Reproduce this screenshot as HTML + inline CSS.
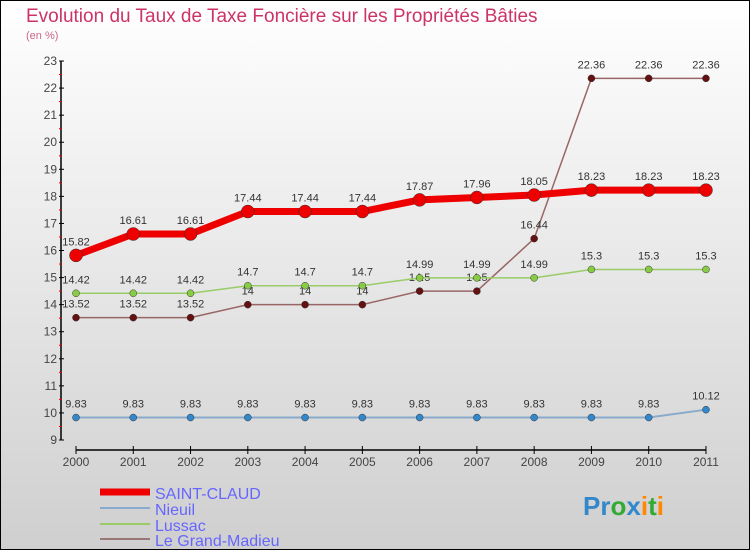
<!DOCTYPE html>
<html><head><meta charset="utf-8"><style>
body{margin:0;width:750px;height:550px;overflow:hidden;font-family:"Liberation Sans",sans-serif}
</style></head><body>
<svg width="750" height="550" xmlns="http://www.w3.org/2000/svg">
<defs><linearGradient id="bg" x1="0" y1="0" x2="0" y2="1"><stop offset="0" stop-color="#ffffff"/><stop offset="1" stop-color="#cfcfcf"/></linearGradient></defs>
<rect x="0.5" y="0.5" width="749" height="549" fill="url(#bg)" stroke="#000"/>
<text x="26" y="22" font-size="19" fill="#cc3366">Evolution du Taux de Taxe Foncière sur les Propriétés Bâties</text>
<text x="26" y="39" font-size="11" fill="#cc6688">(en %)</text>
<g id="axes"></g>
<g id="series"></g>
<g>
<line x1="100" y1="492" x2="150" y2="492" stroke="#ee0000" stroke-width="7"/>
<text x="155" y="499" font-size="16" fill="#6666ff">SAINT-CLAUD</text>
<line x1="100" y1="508" x2="150" y2="508" stroke="#88aacc" stroke-width="2"/>
<text x="155" y="515" font-size="16" fill="#6666ff">Nieuil</text>
<line x1="100" y1="524" x2="150" y2="524" stroke="#99cc66" stroke-width="2"/>
<text x="155" y="531" font-size="16" fill="#6666ff">Lussac</text>
<line x1="100" y1="539" x2="150" y2="539" stroke="#997777" stroke-width="2"/>
<text x="155" y="546" font-size="16" fill="#6666ff">Le Grand-Madieu</text>
</g>
<text x="583" y="515" font-size="26" font-weight="bold"><tspan fill="#3388cc">Pr</tspan><tspan fill="#33aa33">o</tspan><tspan fill="#3388cc">x</tspan><tspan fill="#ff8800">i</tspan><tspan fill="#33aa33">t</tspan><tspan fill="#ff8800">i</tspan></text>
</svg>
<script>
const years=[2000,2001,2002,2003,2004,2005,2006,2007,2008,2009,2010,2011];
const yTicks=[9,10,11,12,13,14,15,16,17,18,19,20,21,22,23];
const saintClaud=[15.82,16.61,16.61,17.44,17.44,17.44,17.87,17.96,18.05,18.23,18.23,18.23];
const nieuil=[9.83,9.83,9.83,9.83,9.83,9.83,9.83,9.83,9.83,9.83,9.83,10.12];
const lussac=[14.42,14.42,14.42,14.7,14.7,14.7,14.99,14.99,14.99,15.3,15.3,15.3];
const grandMadieu=[13.52,13.52,13.52,14,14,14,14.5,14.5,16.44,22.36,22.36,22.36];
const NS="http://www.w3.org/2000/svg";
const X=i=>76+i*57.27;
const Y=v=>440-(v-9)*27.07;
function mk(t,a,p){const e=document.createElementNS(NS,t);for(const k in a)e.setAttribute(k,a[k]);p.appendChild(e);return e;}
const ax=document.getElementById('axes');
let l=mk('line',{x1:61,y1:Y(23),x2:61,y2:Y(9),stroke:'#000','stroke-width':1.5},ax);


l=mk('line',{x1:76,y1:450,x2:706,y2:450,stroke:'#000','stroke-width':1.5},ax);


yTicks.forEach(v=>{
 mk('line',{x1:59,y1:Y(v),x2:64,y2:Y(v),stroke:'#000'},ax);
 if(v<23)mk('line',{x1:59,y1:Y(v+0.5),x2:62,y2:Y(v+0.5),stroke:'#e00'},ax);
 const t=mk('text',{x:57,y:Y(v)+4,'font-size':12,fill:'#444','text-anchor':'end'},ax);
 t.textContent=v;
 
 
});
years.forEach((yr,i)=>{
 mk('line',{x1:X(i),y1:446,x2:X(i),y2:454,stroke:'#000'},ax);
 const t=mk('text',{x:X(i),y:466,'font-size':12,fill:'#444','text-anchor':'middle'},ax);
 t.textContent=yr;
 
 
});
const sg=document.getElementById('series');
function draw(vals,color,w,r,name,fill){
 const g=mk('g',{},sg);
 
 
 mk('polyline',{points:vals.map((v,i)=>X(i)+','+Y(v)).join(' '),fill:'none',stroke:color,'stroke-width':w},g);
 vals.forEach((v,i)=>{
  const c=mk('circle',{cx:X(i),cy:Y(v),r:r,fill:fill,stroke:'#333','stroke-width':0.5},g);
  
  
  const t=mk('text',{x:X(i),y:Y(v)-10,'font-size':11,fill:'#333','text-anchor':'middle'},g);
  t.textContent=String(v);
  
  
 });
}
draw(nieuil,'#88aacc',2,3.5,'nieuil','#3388cc');
draw(grandMadieu,'#996666',1.5,3.5,'le-grand-madieu','#661111');
draw(lussac,'#99cc66',1.5,3.5,'lussac','#88cc44');
draw(saintClaud,'#ee0000',7,6.5,'saint-claud','#ee0000');
</script>
</body></html>
